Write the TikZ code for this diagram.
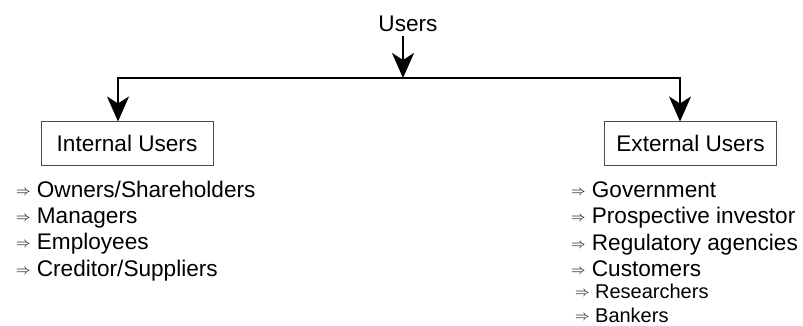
\documentclass[tikz,border=0pt]{standalone}
\usepackage{fontspec}
\setmainfont{Liberation Sans}
\usepackage{tikz}
\usetikzlibrary{arrows.meta, positioning}
\definecolor{mainBlack}{gray}{0.0}
\definecolor{boxGray}{gray}{0.3}
\newcommand{\itemArrow}{\raisebox{2pt}{\fontsize{15}{15}\selectfont$\Rightarrow$}\ }

\begin{document}
\begin{tikzpicture}[x=1pt, y=-1pt,
    every node/.style={font=\fontsize{22.6}{26}\selectfont, text=mainBlack},
    userBox/.style={draw=boxGray, line width=1pt, minimum width=172pt, minimum height=43pt, inner sep=0pt},
    listItem/.style={anchor=base west, inner sep=0pt},
    smallItem/.style={listItem, font=\fontsize{20}{24}\selectfont},
    branch/.style={draw=mainBlack, line width=2pt, -{Stealth[length=25pt, width=22pt, inset=7pt]}}]
    \useasboundingbox (0,0) rectangle (803,326);

    % top label and the two groups
    \node[anchor=base] (users) at (408,32) {Users};
    \node[userBox] (internal) at (127,143.5) {Internal Users};
    \node[userBox] (external) at (690.5,143.5) {External Users};

    \coordinate (split) at (403,78);
    \coordinate (lft) at (118,78);
    \coordinate (rgt) at (680,78);

    % connectors
    \draw[branch] (rgt) -- (lft) -- (internal.north -| lft);
    \draw[branch] (lft) -- (rgt) -- (external.north -| rgt);
    \draw[branch] (users.south -| split) -- (split);

    % internal users
    \node[listItem] (own) at (16,197) {\itemArrow Owners/Shareholders};
    \node[listItem] (man) at (16,223) {\itemArrow Managers};
    \node[listItem] (emp) at (16,249) {\itemArrow Employees};
    \node[listItem] (cred) at (16,276) {\itemArrow Creditor/Suppliers};

    % external users
    \node[listItem] (gov) at (571,197) {\itemArrow Government};
    \node[listItem] (inv) at (571,223) {\itemArrow Prospective investor};
    \node[listItem] (reg) at (571,250) {\itemArrow Regulatory agencies};
    \node[listItem] (cust) at (571,276) {\itemArrow Customers};
    \node[smallItem] (res) at (575,298) {\itemArrow Researchers};
    \node[smallItem] (bank) at (575,322) {\itemArrow Bankers};
\end{tikzpicture}
\end{document}
